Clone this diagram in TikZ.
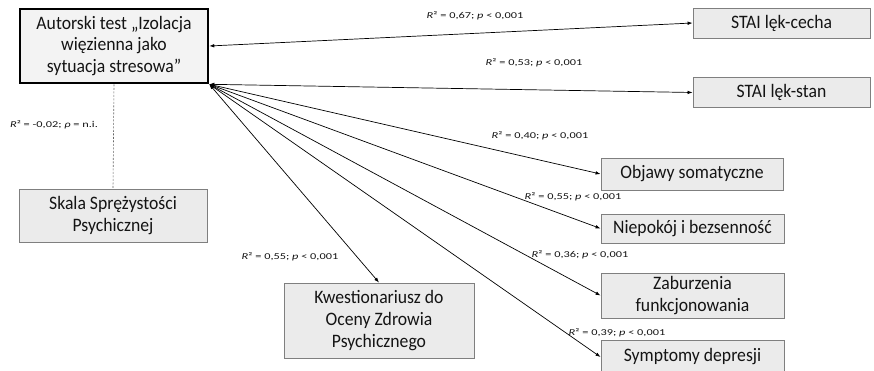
\documentclass[tikz,border=0pt]{standalone}
\usepackage{fontspec}
\setmainfont{Carlito}
\newfontfamily\boxfont[FakeStretch=0.93]{Carlito}
\newfontfamily\labfont[FakeStretch=1.37]{Carlito}
\usetikzlibrary{arrows.meta}
\definecolor{boxfill}{HTML}{EBEBEB}
\definecolor{boxline}{HTML}{7F7F7F}
\definecolor{txt}{HTML}{141414}

\begin{document}
\begin{tikzpicture}[x=1pt,y=-1pt,
  box/.style={draw=boxline,fill=boxfill,line width=0.9pt,inner sep=0pt,align=center,text=txt,
    font=\boxfont\fontsize{19}{21.7}\selectfont},
  mainbox/.style={box,draw=black,line width=2.6pt,fill=boxfill!60!white},
  rel/.style={<->,>={Latex[length=5pt,width=3.6pt]},line width=0.7pt},
  nolink/.style={draw=black!60,line width=0.6pt,dash pattern=on 2pt off 1.5pt},
  lab/.style={font=\labfont\fontsize{9}{10}\selectfont,inner sep=0pt,text=txt}]
\clip (0,0) rectangle (874,371);
\node[mainbox,minimum width=188,minimum height=74] (test) at (114,46) {Autorski test „Izolacja\\więzienna jako\\sytuacja stresowa”};
\node[box,minimum width=177,minimum height=30] (cecha) at (781.5,23) {STAI lęk-cecha};
\node[box,minimum width=177,minimum height=30] (stan) at (781.5,92.5) {STAI lęk-stan};
\node[box,minimum width=182,minimum height=32] (somat) at (692,174) {Objawy somatyczne};
\node[box,minimum width=183,minimum height=29] (niepokoj) at (692.5,228.5) {Niepokój i bezsenność};
\node[box,minimum width=183,minimum height=45] (zab) at (692.5,295.5) {Zaburzenia\\funkcjonowania};
\node[box,minimum width=183,minimum height=34] (depr) at (692.5,357) {Symptomy depresji};
\node[box,minimum width=188,minimum height=53] (skala) at (113,215.5) {Skala Sprężystości\\Psychicznej};
\node[box,minimum width=190,minimum height=75] (kwest) at (379,320.5) {Kwestionariusz do\\Oceny Zdrowia\\Psychicznego};
\draw[rel] (test.east) -- (cecha.west);
\draw[rel] (test.south east) -- (stan.west);
\draw[rel] (test.south east) -- (somat.west);
\draw[rel] (test.south east) -- (niepokoj.west);
\draw[rel] (test.south east) -- (zab.west);
\draw[rel] (test.south east) -- (depr.west);
\draw[rel] (test.south east) -- (kwest.north);
\draw[nolink] (test.south) -- (skala.north);
\node[lab] (l67) at (475,16) {\textit{R}² = 0,67; \textit{p} < 0,001};
\node[lab] (l53) at (534,63) {\textit{R}² = 0,53; \textit{p} < 0,001};
\node[lab] (l40) at (540,136) {\textit{R}² = 0,40; \textit{p} < 0,001};
\node[lab] (l55a) at (573,197) {\textit{R}² = 0,55; \textit{p} < 0,001};
\node[lab] (l36) at (580,255) {\textit{R}² = 0,36; \textit{p} < 0,001};
\node[lab] (l39) at (617,333) {\textit{R}² = 0,39; \textit{p} < 0,001};
\node[lab] (l55b) at (290,257) {\textit{R}² = 0,55; \textit{p} < 0,001};
\node[lab] (l02) at (54,125) {\textit{R}² = -0,02; \textit{ρ} = n.i.};
\end{tikzpicture}
\end{document}
